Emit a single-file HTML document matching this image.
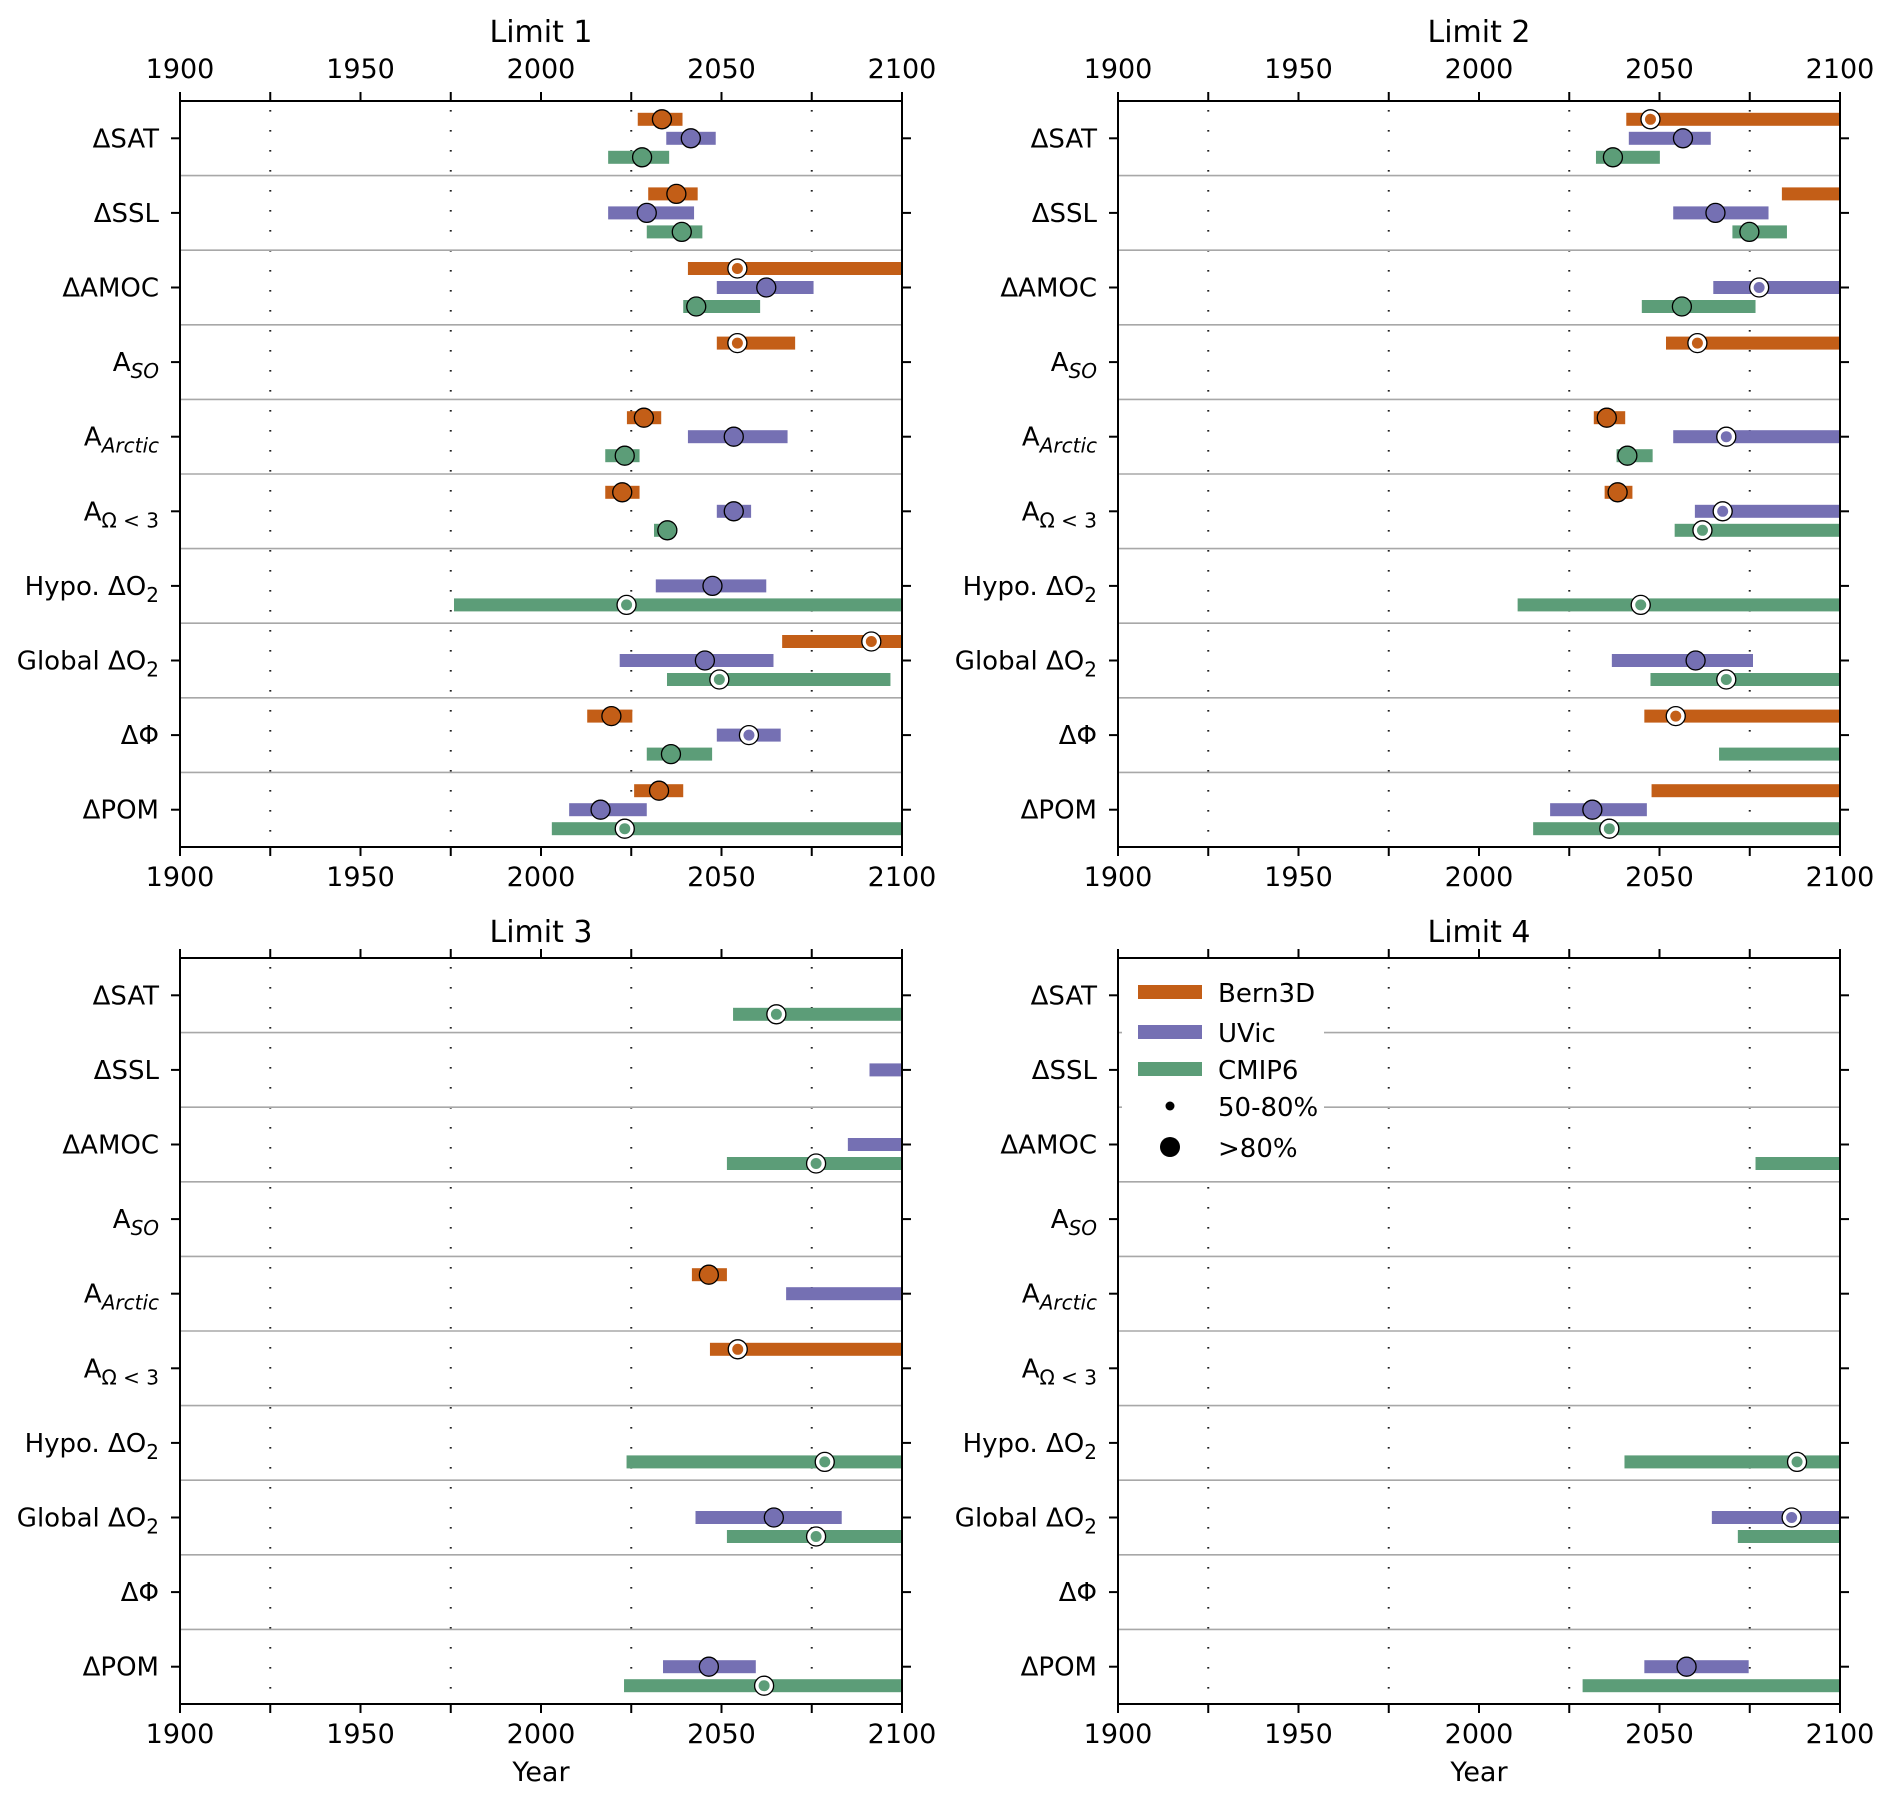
<!DOCTYPE html>
<html><head><meta charset="utf-8"><style>
html,body{margin:0;padding:0;background:#fff}
svg{display:block;font-family:"DejaVu Sans","Liberation Sans",sans-serif}
</style></head><body>
<svg id="chart" width="1892" height="1799" viewBox="0 0 1892 1799" xmlns="http://www.w3.org/2000/svg"></svg>
<script>
const categories = ["ΔSAT","ΔSSL","ΔAMOC","A_SO","A_Arctic","A_Ω<3","Hypo. ΔO2","Global ΔO2","ΔΦ","ΔPOM"];
const models = ["Bern3D","UVic","CMIP6"];
const xTicks = [1900,1950,2000,2050,2100];
const xMinor = [1925,1975,2025,2075];
const panelTitles = ["Limit 1","Limit 2","Limit 3","Limit 4"];
const N = null;
// Panel 1
const p1_bern_lo  = [2026.8,2029.7,2040.7,2048.7,2023.8,2017.8,N,2066.8,2012.8,2025.8];
const p1_bern_hi  = [2039.2,2043.4,2100,2070.4,2033.3,2027.3,N,2100,2025.3,2039.4];
const p1_bern_mid = [2033.5,2037.5,2054.4,2054.4,2028.5,2022.5,N,2091.5,2019.5,2032.7];
const p1_bern_cf  = ["H","H","M","M","H","H",N,"M","H","H"];
const p1_uvic_lo  = [2034.7,2018.6,2048.7,N,2040.7,2048.7,2031.8,2021.8,2048.7,2007.8];
const p1_uvic_hi  = [2048.4,2042.4,2075.5,N,2068.3,2058.2,2062.4,2064.4,2066.4,2029.3];
const p1_uvic_mid = [2041.5,2029.3,2062.4,N,2053.4,2053.4,2047.5,2045.4,2057.6,2016.5];
const p1_uvic_cf  = ["H","H","H",N,"H","H","H","H","M","H"];
const p1_cmip_lo  = [2018.6,2029.3,2039.4,N,2017.8,2031.3,1975.9,2034.9,2029.3,2003];
const p1_cmip_hi  = [2035.5,2044.7,2060.7,N,2027.3,2037,2100,2096.8,2047.4,2100];
const p1_cmip_mid = [2028,2039,2043,N,2023.2,2035,2023.7,2049.4,2036,2023.2];
const p1_cmip_cf  = ["H","H","H",N,"H","H","M","M","H","M"];
// Panel 2
const p2_bern_lo  = [2040.8,2083.9,N,2051.8,2031.8,2034.8,N,N,2045.8,2047.8];
const p2_bern_hi  = [2100,2100,N,2100,2040.5,2042.5,N,N,2100,2100];
const p2_bern_mid = [2047.5,N,N,2060.5,2035.4,2038.4,N,N,2054.5,N];
const p2_bern_cf  = ["M",N,N,"M","H","H",N,N,"M",N];
const p2_uvic_lo  = [2041.5,2053.8,2064.9,N,2053.8,2059.8,N,2036.8,N,2019.7];
const p2_uvic_hi  = [2064.2,2080.2,2100,N,2100,2100,N,2075.9,N,2046.5];
const p2_uvic_mid = [2056.5,2065.5,2077.6,N,2068.5,2067.5,N,2060,N,2031.4];
const p2_uvic_cf  = ["H","H","M",N,"M","M",N,"H",N,"H"];
const p2_cmip_lo  = [2032.4,2070.2,2045.1,N,2038.1,2054.2,2010.7,2047.5,2066.5,2015];
const p2_cmip_hi  = [2050.1,2085.3,2076.6,N,2048.1,2100,2100,2100,2100,2100];
const p2_cmip_mid = [2037.1,2074.9,2056.2,N,2041.1,2061.9,2044.8,2068.5,N,2036.1];
const p2_cmip_cf  = ["H","H","H",N,"H","M","M","M",N,"M"];
// Panel 3
const p3_bern_lo  = [N,N,N,N,2041.8,2046.8,N,N,N,N];
const p3_bern_hi  = [N,N,N,N,2051.5,2100,N,N,N,N];
const p3_bern_mid = [N,N,N,N,2046.5,2054.5,N,N,N,N];
const p3_bern_cf  = [N,N,N,N,"H","M",N,N,N,N];
const p3_uvic_lo  = [N,2091,2085,N,2067.9,N,N,2042.8,N,2033.8];
const p3_uvic_hi  = [N,2100,2100,N,2100,N,N,2083.3,N,2059.5];
const p3_uvic_mid = [N,N,N,N,N,N,N,2064.5,N,2046.5];
const p3_uvic_cf  = [N,N,N,N,N,N,N,"H",N,"H"];
const p3_cmip_lo  = [2053.2,N,2051.5,N,N,N,2023.7,2051.5,N,2023];
const p3_cmip_hi  = [2100,N,2100,N,N,N,2100,2100,N,2100];
const p3_cmip_mid = [2065.2,N,2076.2,N,N,N,2078.6,2076.2,N,2061.8];
const p3_cmip_cf  = ["M",N,"M",N,N,N,"M","M",N,"M"];
// Panel 4
const p4_bern_lo  = [N,N,N,N,N,N,N,N,N,N];
const p4_bern_hi  = [N,N,N,N,N,N,N,N,N,N];
const p4_bern_mid = [N,N,N,N,N,N,N,N,N,N];
const p4_bern_cf  = [N,N,N,N,N,N,N,N,N,N];
const p4_uvic_lo  = [N,N,N,N,N,N,N,2064.5,N,2045.8];
const p4_uvic_hi  = [N,N,N,N,N,N,N,2100,N,2074.7];
const p4_uvic_mid = [N,N,N,N,N,N,N,2086.6,N,2057.5];
const p4_uvic_cf  = [N,N,N,N,N,N,N,"M",N,"H"];
const p4_cmip_lo  = [N,N,2076.6,N,N,N,2040.3,2071.7,N,2028.7];
const p4_cmip_hi  = [N,N,2100,N,N,N,2100,2100,N,2100];
const p4_cmip_mid = [N,N,N,N,N,N,2088.1,N,N,N];
const p4_cmip_cf  = [N,N,N,N,N,N,"M",N,N,N];

const panelsData = [
 [[p1_bern_lo,p1_bern_hi,p1_bern_mid,p1_bern_cf],[p1_uvic_lo,p1_uvic_hi,p1_uvic_mid,p1_uvic_cf],[p1_cmip_lo,p1_cmip_hi,p1_cmip_mid,p1_cmip_cf]],
 [[p2_bern_lo,p2_bern_hi,p2_bern_mid,p2_bern_cf],[p2_uvic_lo,p2_uvic_hi,p2_uvic_mid,p2_uvic_cf],[p2_cmip_lo,p2_cmip_hi,p2_cmip_mid,p2_cmip_cf]],
 [[p3_bern_lo,p3_bern_hi,p3_bern_mid,p3_bern_cf],[p3_uvic_lo,p3_uvic_hi,p3_uvic_mid,p3_uvic_cf],[p3_cmip_lo,p3_cmip_hi,p3_cmip_mid,p3_cmip_cf]],
 [[p4_bern_lo,p4_bern_hi,p4_bern_mid,p4_bern_cf],[p4_uvic_lo,p4_uvic_hi,p4_uvic_mid,p4_uvic_cf],[p4_cmip_lo,p4_cmip_hi,p4_cmip_mid,p4_cmip_cf]]
];
const colors = ["#c35e17","#7570b3","#5c9d78"];

const NS="http://www.w3.org/2000/svg";
const svg=document.getElementById('chart');
function el(tag,attrs,parent){const e=document.createElementNS(NS,tag);for(const k in attrs)e.setAttribute(k,attrs[k]);(parent||svg).appendChild(e);return e;}
const layout=[{x:180,y:101,top:true},{x:1118,y:101,top:true},{x:180,y:958,top:false},{x:1118,y:958,top:false}];
const PW=722, PH=746;

function labelTspans(t,cat){
  const parts={"A_SO":["A","SO","i"],"A_Arctic":["A","Arctic","i"],"A_Ω<3":["A","Ω < 3",""],"Hypo. ΔO2":["Hypo. ΔO","2",""],"Global ΔO2":["Global ΔO","2",""]}[cat];
  if(!parts){t.textContent=cat;return;}
  const a=el('tspan',{},t);a.textContent=parts[0];
  const b=el('tspan',{dy:7,'font-size':20,'font-style':parts[2]?'italic':'normal'},t);b.textContent=parts[1];
}

layout.forEach((L,pi)=>{
  const g=el('g',{});
  
  
  const xs=yr=>L.x+(yr-1900)/200*PW;
  const rowH=PH/categories.length;
  const ys=i=>L.y+rowH*(i+0.5);
  const ty=pi<2?42:942;
  const tt=el('text',{x:L.x+PW/2,y:ty,'text-anchor':'middle','font-size':30,fill:'#000'},g);
  
  
  tt.textContent=panelTitles[pi];
  xMinor.forEach(v=>{
    const l=el('line',{x1:xs(v),x2:xs(v),y1:L.y+1,y2:L.y+PH,stroke:'#222','stroke-width':2,'stroke-dasharray':'1.6,18.4','stroke-dashoffset':-8},g);
    
    
  });
  for(let i=1;i<categories.length;i++){
    const l=el('line',{x1:L.x,x2:L.x+PW,y1:L.y+rowH*i,y2:L.y+rowH*i,stroke:'#a8a8a8','stroke-width':1.6},g);
    
    
  }
  const off=[-19,0,19];
  panelsData[pi].forEach((md,mi)=>{
    const [lo,hi,mid,cf]=md;
    categories.forEach((c,i)=>{
      if(lo[i]!=null&&hi[i]!=null){
        const r=el('rect',{x:xs(lo[i]),y:ys(i)+off[mi]-6.5,width:xs(hi[i])-xs(lo[i]),height:13,fill:colors[mi]},g);
        
        
      }
    });
    categories.forEach((c,i)=>{
      if(mid[i]!=null){
        const cx=xs(mid[i]),cy=ys(i)+off[mi];
        if(cf[i]==='H'){
          const m=el('circle',{cx:cx,cy:cy,r:9.5,fill:colors[mi],stroke:'#000','stroke-width':1.3},g);
          
          
        } else {
          const m=el('circle',{cx:cx,cy:cy,r:9.5,fill:'#fff',stroke:'#000','stroke-width':1.3},g);
          
          
          const d=el('circle',{cx:cx,cy:cy,r:5.5,fill:colors[mi]},g);
          
          
        }
      }
    });
  });
  if(pi===3){
    const lg=el('g',{},g);
    
    
    el('rect',{x:L.x+4,y:L.y+4,width:202,height:212,fill:'#fff'},lg);
    const rowsY=[992,1032,1069,1106,1147];
    models.forEach((m,mi)=>{
      const p=el('rect',{x:1138,y:rowsY[mi]-7,width:64,height:14,fill:colors[mi]},lg);
      
      
      const t=el('text',{x:1218,y:rowsY[mi]+10,'font-size':26},lg);
      
      
      t.textContent=m;
    });
    const s=el('circle',{cx:1170,cy:rowsY[3],r:4.5,fill:'#000'},lg);
    
    
    const b=el('circle',{cx:1170,cy:rowsY[4],r:10,fill:'#000'},lg);
    
    
    ["50-80%",">80%"].forEach((txt,k)=>{
      const t=el('text',{x:1218,y:rowsY[3+k]+10,'font-size':26},lg);
      
      
      t.textContent=txt;
    });
  }
  const f=el('rect',{x:L.x,y:L.y,width:PW,height:PH,fill:'none',stroke:'#000','stroke-width':2},g);
  
  
  xTicks.concat(xMinor).forEach(v=>{
    el('line',{x1:xs(v),x2:xs(v),y1:L.y+PH,y2:L.y+PH+9,stroke:'#000','stroke-width':2},g);
    el('line',{x1:xs(v),x2:xs(v),y1:L.y,y2:L.y-9,stroke:'#000','stroke-width':2},g);
  });
  xTicks.forEach(v=>{
    const t=el('text',{x:xs(v),y:L.y+PH+39,'text-anchor':'middle','font-size':27},g);
    
    
    t.textContent=v;
    if(L.top){
      const t2=el('text',{x:xs(v),y:L.y-23,'text-anchor':'middle','font-size':27},g);
      
      
      t2.textContent=v;
    }
  });
  if(!L.top){
    const t=el('text',{x:L.x+PW/2,y:1781,'text-anchor':'middle','font-size':27},g);
    
    
    t.textContent='Year';
  }
  categories.forEach((c,i)=>{
    el('line',{x1:L.x-9,x2:L.x,y1:ys(i),y2:ys(i),stroke:'#000','stroke-width':2},g);
    el('line',{x1:L.x+PW,x2:L.x+PW+9,y1:ys(i),y2:ys(i),stroke:'#000','stroke-width':2},g);
    const t=el('text',{x:L.x-21,y:ys(i)+9,'text-anchor':'end','font-size':26},g);
    
    
    labelTspans(t,c);
  });
});
</script>
</body></html>
